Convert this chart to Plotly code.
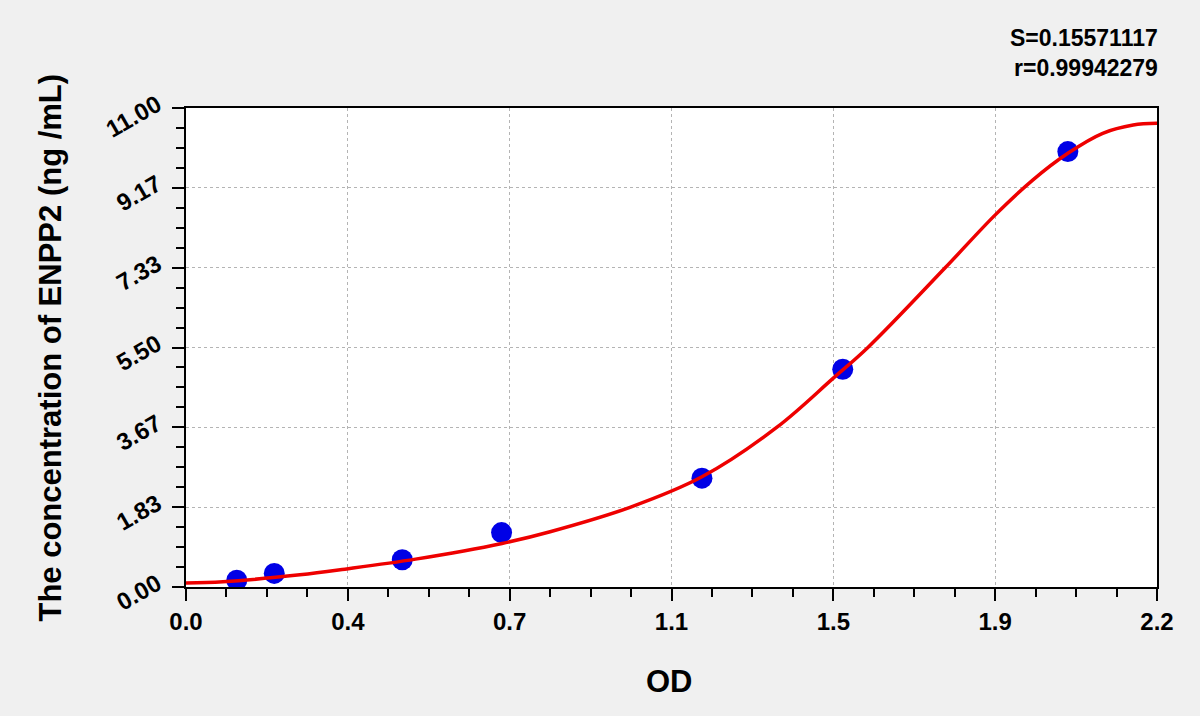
import plotly.graph_objects as go

# standards
std_od = [0.115, 0.200, 0.490, 0.715, 1.169, 1.488, 1.998]
std_conc = [0.156, 0.312, 0.625, 1.25, 2.5, 5.0, 10.0]

# fitted curve
curve_od = [0.0, 0.084, 0.258, 0.36, 0.52, 0.716, 0.825, 1.006, 1.169,
            1.339, 1.466, 1.545, 1.72, 1.833, 1.919, 1.998, 2.077, 2.146, 2.2]
curve_conc = [0.09, 0.12, 0.28, 0.41, 0.64, 1.00, 1.27, 1.83, 2.53,
              3.67, 4.79, 5.50, 7.33, 8.54, 9.35, 9.96, 10.42, 10.61, 10.65]

x_tickvals = [0, 2.2 / 6, 2 * 2.2 / 6, 1.1, 4 * 2.2 / 6, 5 * 2.2 / 6, 2.2]
x_ticktext = ["0.0", "0.4", "0.7", "1.1", "1.5", "1.9", "2.2"]
y_tickvals = [0, 11 / 6, 22 / 6, 5.5, 44 / 6, 55 / 6, 11]
y_ticktext = ["0.00", "1.83", "3.67", "5.50", "7.33", "9.17", "11.00"]

S_value = "S=0.15571117"
r_value = "r=0.99942279"

font = "Liberation Sans, Arial, sans-serif"


def bold(size):
    return dict(family=font, size=size, color="black", weight="bold")


fig = go.Figure()
fig.add_trace(go.Scatter(
    x=std_od, y=std_conc, mode="markers",
    marker=dict(color="#0000e6", size=21),
    showlegend=False,
))
fig.add_trace(go.Scatter(
    x=curve_od, y=curve_conc, mode="lines",
    line=dict(color="#ee0000", width=3.5, shape="spline", smoothing=1.0),
    showlegend=False,
))

axis_common = dict(
    showline=True, linecolor="black", linewidth=2, mirror=True,
    ticks="outside", ticklen=12, tickwidth=2, tickcolor="black",
    showgrid=True, gridcolor="#b4b4b4", griddash="dot", gridwidth=1,
    zeroline=False, automargin=False,
    tickfont=bold(24),
)

fig.update_xaxes(
    range=[0, 2.2], tickmode="array", tickvals=x_tickvals, ticktext=x_ticktext,
    minor=dict(dtick=2.2 / 24, tick0=0, ticks="outside", ticklen=8,
               tickwidth=2, tickcolor="black", showgrid=False),
    **axis_common,
)
fig.update_yaxes(
    range=[0, 11], tickmode="array", tickvals=y_tickvals, ticktext=y_ticktext,
    tickangle=-30, ticklabelstandoff=10, ticklabelshift=-6,
    minor=dict(dtick=11 / 24, tick0=0, ticks="outside", ticklen=8,
               tickwidth=2, tickcolor="black", showgrid=False),
    **axis_common,
)

fig.add_annotation(text="The concentration of ENPP2 (ng /mL)", textangle=-90,
                   x=-0.140, y=0.50, xref="paper", yref="paper",
                   xanchor="center", yanchor="middle",
                   showarrow=False, font=bold(31))
fig.add_annotation(text="OD", x=0.498, y=-0.198, xref="paper", yref="paper",
                   xanchor="center", yanchor="middle",
                   showarrow=False, font=bold(31))
fig.add_annotation(text=S_value, x=1.003, y=1.146, xref="paper", yref="paper",
                   xanchor="right", yanchor="middle", showarrow=False,
                   font=bold(23))
fig.add_annotation(text=r_value, x=1.003, y=1.083, xref="paper", yref="paper",
                   xanchor="right", yanchor="middle", showarrow=False,
                   font=bold(23))

fig.update_layout(
    width=1200, height=716,
    margin=dict(l=186, r=43, t=108, b=129),
    paper_bgcolor="#f0f0f0", plot_bgcolor="white",
)

fig.write_html("out.html", config={"displayModeBar": False},
               post_script="document.body.style.margin='0px';")
